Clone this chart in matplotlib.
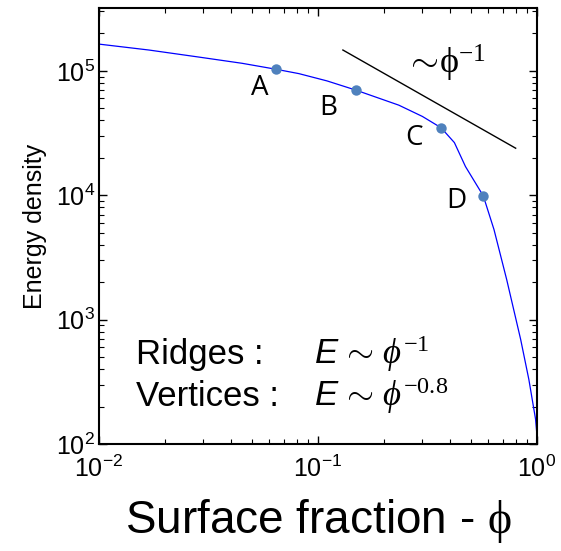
import numpy as np
import matplotlib
matplotlib.use("Agg")
import matplotlib.pyplot as plt

plt.rcParams['font.family'] = ['Liberation Sans', 'DejaVu Sans']
plt.rcParams['mathtext.fontset'] = 'custom'
plt.rcParams['mathtext.rm'] = 'Liberation Serif'
plt.rcParams['mathtext.it'] = 'Liberation Serif:italic'
plt.rcParams['mathtext.sf'] = 'Liberation Sans:italic'

# energy density curve
phi = [0.01, 0.0169, 0.0286, 0.045, 0.0643, 0.0818, 0.11, 0.149, 0.234, 0.30,
       0.365, 0.42, 0.472, 0.569, 0.637, 0.728, 0.843, 0.919, 0.986, 1.0]
energy = [1.64e5, 1.47e5, 1.29e5, 1.15e5, 1.03e5, 9.5e4, 8.3e4, 7.0e4, 5.3e4, 4.3e4,
          3.49e4, 2.65e4, 1.7e4, 9.9e3, 5.3e3, 2.1e3, 695, 331, 159, 120]

# marked states
pt_labels = ['A', 'B', 'C', 'D']
pt_phi = [0.0643, 0.149, 0.365, 0.569]
pt_energy = [1.03e5, 7.0e4, 3.49e4, 9.9e3]

# guide line ~ phi^-1
guide_phi = [0.130, 0.80]
guide_energy = [1.47e5, 1.47e5 * 0.130 / 0.80]

fig = plt.figure(figsize=(5.61, 5.51), dpi=100)
ax = fig.add_axes([0.1765, 0.194, 0.7805, 0.7915])

ax.loglog(phi, energy, color='#0000ff', lw=0.9)
ax.plot(pt_phi, pt_energy, 'o', color='#4f81bd', ms=7.5, mec='none')
ax.plot(guide_phi, guide_energy, color='black', lw=1.0)

offsets = [(-11.5, -13.7), (-20, -13), (-19.4, -7.2), (-19.4, -3.6)]
for lab, x, y, off in zip(pt_labels, pt_phi, pt_energy, offsets):
    ax.annotate(lab, (x, y), xytext=off, textcoords='offset points',
                ha='center', va='center', fontsize=20, family='Open Sans')

ax.text(0.25, 1.15e5, r'$\sim\!\mathrm{\phi}^{\mathrm{-1}}$', fontsize=26,
        ha='left', va='center')

ax.text(0.0148, 444, 'Ridges :', fontsize=25, va='baseline')
ax.text(0.096, 444, r'$\mathsf{E}\,\sim\,\phi^{-1}$', fontsize=25, va='baseline')
ax.text(0.0148, 204, 'Vertices :', fontsize=25, va='baseline')
ax.text(0.096, 204, r'$\mathsf{E}\,\sim\,\phi^{-0.8}$', fontsize=25, va='baseline')

ax.set_xlim(1e-2, 1)
ax.set_ylim(1e2, 3.2e5)
ax.tick_params(which='both', direction='in', top=True, right=True, labelsize=18)
ax.tick_params(which='major', length=6, width=1)
ax.tick_params(which='minor', length=3.5, width=0.8)
ax.tick_params(axis='x', pad=8)
ax.tick_params(axis='y', pad=3)
for s in ax.spines.values():
    s.set_linewidth(1.5)

ax.set_xlabel(r'Surface fraction - $\mathrm{\phi}$', fontsize=33, labelpad=11)
ax.set_ylabel('Energy density', fontsize=18, labelpad=6)

fig.savefig('out.png', dpi=100)
